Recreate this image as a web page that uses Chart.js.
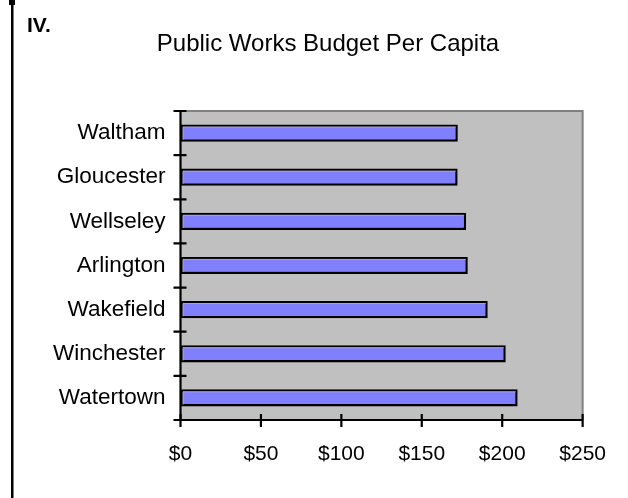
<!DOCTYPE html>
<html>
<head>
<meta charset="utf-8">
<script src="https://cdn.jsdelivr.net/npm/chart.js@4/dist/chart.umd.min.js"></script>
<style>
html,body{margin:0;padding:0;background:#fff;}
#wrap{width:628px;height:498px;position:relative;}
canvas{display:block;}
</style>
</head>
<body>
<div id="wrap"><canvas id="c" width="628" height="498"></canvas></div>
<script>
const categories = ['Waltham','Gloucester','Wellseley','Arlington','Wakefield','Winchester','Watertown'];
const budgetPerCapita = [172.4, 172.3, 177.6, 178.6, 191.0, 202.2, 209.6];
const xTickValues = [0, 50, 100, 150, 200, 250];
const chartTitle = 'Public Works Budget Per Capita';
const sectionLabel = 'IV.';

const FONT = '"Liberation Sans", Arial, sans-serif';

const framePlugin = {
  id: 'frame',
  beforeDraw(chart) {
    const ctx = chart.ctx;
    ctx.save();
    ctx.fillStyle = '#ffffff';
    ctx.fillRect(0, 0, chart.width, chart.height);
    ctx.fillStyle = '#000';
    ctx.fillRect(11, 0, 2.5, chart.height);
    ctx.fillRect(9, 0, 6, 5);
    ctx.font = 'bold 21px ' + FONT;
    ctx.textAlign = 'left';
    ctx.textBaseline = 'alphabetic';
    ctx.fillText(sectionLabel, 27, 32);
    ctx.font = '24px ' + FONT;
    ctx.textAlign = 'center';
    ctx.fillText(chartTitle, 328, 51);
    ctx.restore();
  },
  beforeDatasetsDraw(chart) {
    const ctx = chart.ctx, a = chart.chartArea;
    ctx.save();
    ctx.fillStyle = '#C0C0C0';
    ctx.fillRect(a.left, a.top, a.right - a.left, a.bottom - a.top);
    ctx.strokeStyle = '#808080';
    ctx.lineWidth = 2;
    ctx.beginPath();
    ctx.moveTo(a.left, a.top);
    ctx.lineTo(a.right, a.top);
    ctx.lineTo(a.right, a.bottom);
    ctx.stroke();
    ctx.restore();
  },
  afterDatasetsDraw(chart) {
    const ctx = chart.ctx, a = chart.chartArea;
    const xs = chart.scales.x, ys = chart.scales.y;
    ctx.save();
    // inner highlight on bars (top and left edges)
    ctx.strokeStyle = '#A8A8C8';
    ctx.lineWidth = 1;
    chart.getDatasetMeta(0).data.forEach(bar => {
      const p = bar.getProps(['x', 'y', 'base', 'height'], true);
      const top = p.y - p.height / 2 + 2;
      const left = Math.min(p.base, p.x) + 2;
      const right = Math.max(p.base, p.x) - 2;
      const bottom = p.y + p.height / 2 - 2;
      ctx.beginPath();
      ctx.moveTo(left + 0.5, bottom);
      ctx.lineTo(left + 0.5, top + 0.5);
      ctx.lineTo(right, top + 0.5);
      ctx.stroke();
    });
    ctx.strokeStyle = '#000';
    ctx.lineWidth = 2.2;
    ctx.beginPath();
    ctx.moveTo(a.left, a.top);
    ctx.lineTo(a.left, a.bottom);
    ctx.lineTo(a.right, a.bottom);
    ctx.stroke();
    ctx.beginPath();
    xTickValues.forEach(v => {
      const px = xs.getPixelForValue(v);
      ctx.moveTo(px, a.bottom - 6);
      ctx.lineTo(px, a.bottom + 7);
    });
    for (let i = 0; i <= categories.length; i++) {
      const py = ys.getPixelForValue(i - 0.5);
      ctx.moveTo(a.left - 7, py);
      ctx.lineTo(a.left + 6, py);
    }
    ctx.stroke();
    ctx.restore();
  }
};

new Chart(document.getElementById('c'), {
  type: 'bar',
  data: {
    labels: categories,
    datasets: [{
      data: budgetPerCapita,
      backgroundColor: '#8080FF',
      borderColor: '#000000',
      borderWidth: 2.5,
      borderSkipped: false,
      categoryPercentage: 1,
      barPercentage: 0.39
    }]
  },
  options: {
    indexAxis: 'y',
    responsive: false,
    animation: false,
    devicePixelRatio: 1,
    layout: { padding: { top: 111, right: 45, left: 0, bottom: 0 } },
    plugins: { legend: { display: false }, title: { display: false }, tooltip: { enabled: false } },
    scales: {
      x: {
        min: 0, max: 250,
        afterBuildTicks(scale) { scale.ticks = xTickValues.map(v => ({ value: v })); },
        afterFit(scale) { scale.height = 78; },
        grid: { display: false, drawTicks: false },
        border: { display: false },
        ticks: {
          color: '#000',
          padding: 22,
          maxRotation: 0,
          font: { family: FONT, size: 21 },
          callback: v => '$' + v
        }
      },
      y: {
        afterFit(scale) { scale.width = 180.5; },
        grid: { display: false, drawTicks: false, offset: true },
        border: { display: false },
        ticks: {
          color: '#000',
          padding: 15,
          font: { family: FONT, size: 22.5 }
        }
      }
    }
  },
  plugins: [framePlugin]
});
</script>
</body>
</html>
